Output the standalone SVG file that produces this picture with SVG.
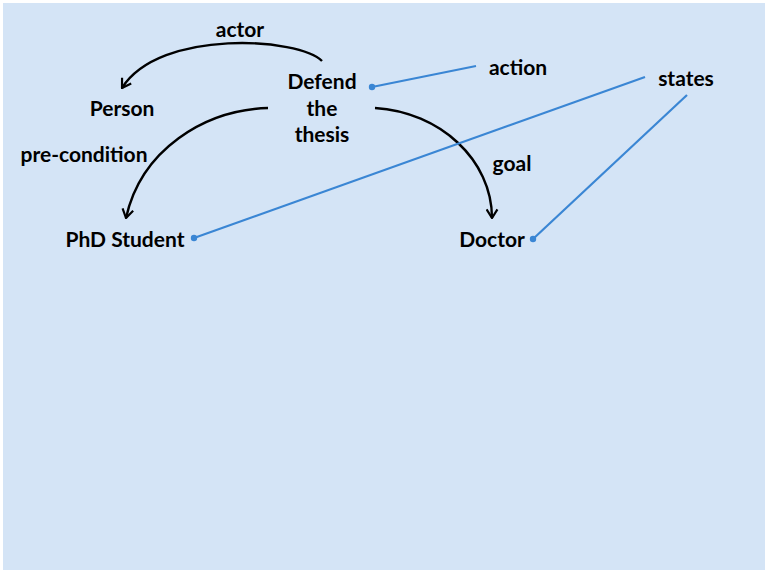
<svg xmlns="http://www.w3.org/2000/svg" width="765" height="570" viewBox="0 0 765 570">
<defs>
<style>
.t{font-family:Lato,"Open Sans","Liberation Sans",sans-serif;font-weight:bold;font-size:21px;fill:#000;text-anchor:middle}
.arc{fill:none;stroke:#000;stroke-width:2.4}
.bl{fill:none;stroke:#3A86D4;stroke-width:2.2}
.dot{fill:#3A86D4}
</style>
<marker id="ah" viewBox="0 0 10 12" refX="9" refY="6" markerWidth="11" markerHeight="13" markerUnits="userSpaceOnUse" orient="auto">
<path d="M1,1 L9,6 L1,11" fill="none" stroke="#000" stroke-width="2"/>
</marker>
</defs>
<rect x="3" y="3" width="762" height="567" fill="#D4E4F6"/>
<g id="connectors">
<path class="arc" d="M322,61 C300,38 160,28 122,88" marker-end="url(#ah)"/>
<path class="arc" d="M268,108 C204,110 141,150 126,218" marker-end="url(#ah)"/>
<path class="arc" d="M375,108 C440,112 492,160 492,218" marker-end="url(#ah)"/>
<line class="bl" x1="372" y1="87" x2="476" y2="66"/>
<circle class="dot" cx="372" cy="87" r="3.2"/>
<line class="bl" x1="645" y1="77" x2="194" y2="238"/>
<circle class="dot" cx="194" cy="238" r="3.2"/>
<line class="bl" x1="687" y1="95" x2="533" y2="239"/>
<circle class="dot" cx="533" cy="239" r="3.2"/>
<text class="t" x="240" y="37">actor</text>
<text class="t" x="84" y="162">pre-condition</text>
<text class="t" x="512" y="171">goal</text>
<text class="t" x="518" y="75">action</text>
<text class="t" x="686" y="86">states</text>
</g>
<g id="defend"><text class="t" x="322" y="89">Defend</text><text class="t" x="322" y="116">the</text><text class="t" x="322" y="142">thesis</text></g>
<g id="person"><text class="t" x="122" y="116">Person</text></g>
<g id="phd"><text class="t" x="125" y="247">PhD Student</text></g>
<g id="doctor"><text class="t" x="492" y="247">Doctor</text></g>
</svg>
